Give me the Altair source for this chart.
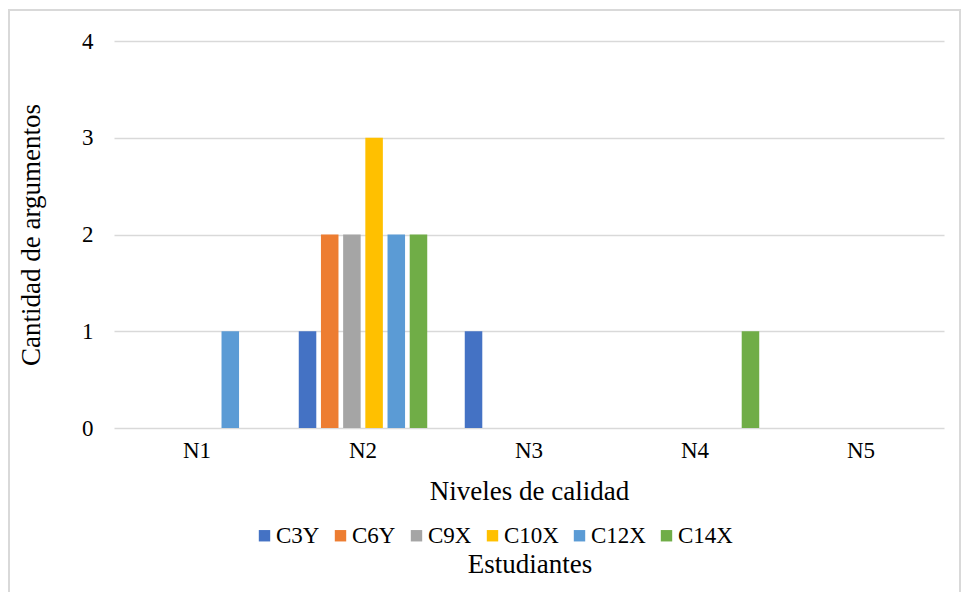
import altair as alt
import pandas as pd

# Quality levels, students and argument counts per student
niveles = ["N1", "N2", "N3", "N4", "N5"]
estudiantes = ["C3Y", "C6Y", "C9X", "C10X", "C12X", "C14X"]
colores = ["#4472C4", "#ED7D31", "#A5A5A5", "#FFC000", "#5B9BD5", "#70AD47"]

c3y = [0, 1, 1, 0, 0]
c6y = [0, 2, 0, 0, 0]
c9x = [0, 2, 0, 0, 0]
c10x = [0, 3, 0, 0, 0]
c12x = [1, 2, 0, 0, 0]
c14x = [0, 2, 0, 1, 0]

series = [c3y, c6y, c9x, c10x, c12x, c14x]
rows = []
for est, vals in zip(estudiantes, series):
    for niv, v in zip(niveles, vals):
        rows.append({"nivel": niv, "estudiante": est, "cantidad": v})
df = pd.DataFrame(rows)

FONT = "Liberation Serif"

bars = alt.Chart(df).mark_bar().encode(
    x=alt.X(
        "nivel:N",
        sort=niveles,
        scale=alt.Scale(paddingInner=0.226, paddingOuter=0.113),
        axis=alt.Axis(
            title="Niveles de calidad",
            labelAngle=0,
            labelPadding=11,
            titlePadding=16,
            grid=False,
            ticks=False,
            tickSize=0,
            domain=False,
        ),
    ),
    xOffset=alt.XOffset(
        "estudiante:N",
        sort=estudiantes,
        scale=alt.Scale(paddingInner=0.21, paddingOuter=0),
    ),
    y=alt.Y(
        "cantidad:Q",
        scale=alt.Scale(domain=[0, 4], nice=False),
        axis=alt.Axis(
            title="Cantidad de argumentos",
            values=[0, 1, 2, 3, 4],
            format="d",
            labelPadding=21,
            titlePadding=36,
            ticks=False,
            tickSize=0,
            domain=False,
        ),
    ),
    color=alt.Color(
        "estudiante:N",
        sort=estudiantes,
        scale=alt.Scale(domain=estudiantes, range=colores),
        legend=alt.Legend(
            title=None,
            orient="none",
            legendX=139,
            legendY=483,
            direction="horizontal",
            symbolType="square",
            symbolSize=130,
            symbolStrokeWidth=0,
            columnPadding=9,
            labelOffset=0,
        ),
    ),
)

# Caption for the legend, placed beneath the legend entries
leyenda_titulo = alt.Chart(pd.DataFrame({"t": ["Estudiantes"]})).mark_text(
    font=FONT, fontSize=27, color="#000000", align="center", baseline="middle"
).encode(text="t:N", x=alt.value(416), y=alt.value(524))

# Light gray frame around the whole figure
frame = alt.Chart(df).mark_rect(
    fill=None, stroke="#d9d9d9", strokeWidth=1.5
).encode(
    x=alt.value(-105), x2=alt.value(846), y=alt.value(-31), y2=alt.value(620)
)

chart = (
    alt.layer(frame, bars, leyenda_titulo)
    .properties(
        width=830,
        height=387,
        autosize=alt.AutoSizeParams(type="none"),
        padding={"left": 114, "top": 41, "right": 17, "bottom": 164},
        background="white",
    )
    .configure_view(stroke=None)
    .configure_axis(
        labelFont=FONT,
        titleFont=FONT,
        labelFontSize=23,
        titleFontSize=27,
        titleFontWeight="normal",
        labelColor="#000000",
        titleColor="#000000",
        gridColor="#d9d9d9",
        gridWidth=1.5,
    )
    .configure_legend(
        labelFont=FONT,
        labelFontSize=23,
        labelColor="#000000",
    )
)

chart.save("out.html", embed_options={"renderer": "svg", "actions": False})
